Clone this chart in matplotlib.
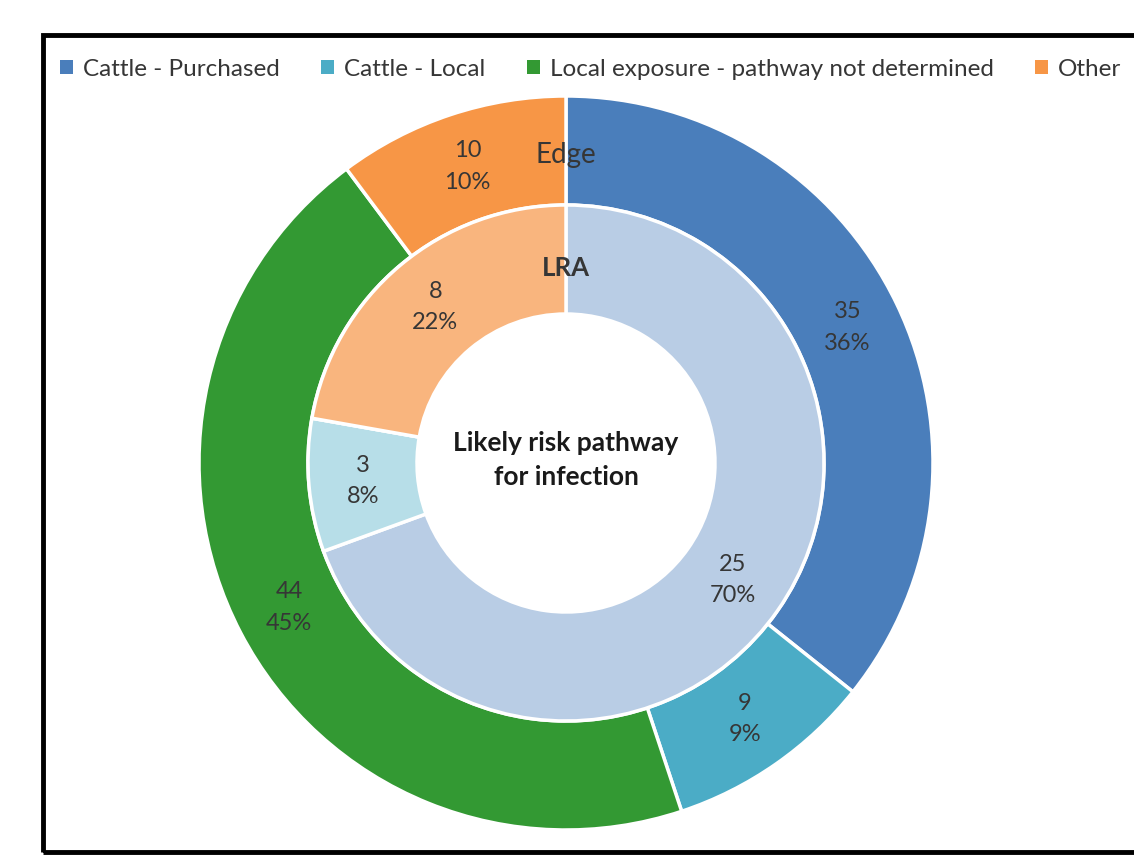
import matplotlib
matplotlib.use('Agg')
import matplotlib.pyplot as plt
from matplotlib.patches import Patch, Rectangle
import numpy as np

plt.rcParams['font.family'] = ['Lato', 'DejaVu Sans']

# data
categories = ['Cattle - Purchased', 'Cattle - Local',
              'Local exposure - pathway not determined', 'Other']
edge_counts = [35, 9, 44, 10]
edge_pct = [36, 9, 45, 10]
lra_counts = [25, 3, 0, 8]
lra_pct = [70, 8, 0, 22]

outer_colors = ['#4a7ebb', '#4bacc6', '#339933', '#f79646']
inner_colors = ['#b9cde5', '#b7dee8', '#a9d18e', '#f9b57e']
label_color = '#363636'

W, H = 1134, 855
fig = plt.figure(figsize=(W / 100, H / 100), dpi=100)

# pie centre and outer radius in pixels
cx, cy, R = 566, 463, 367
half = 380
ax = fig.add_axes([(cx - half) / W, (H - cy - half) / H, 2 * half / W, 2 * half / H])

ring = 109 / R
outer, _ = ax.pie(edge_counts, radius=1, colors=outer_colors, startangle=90,
                  counterclock=False,
                  wedgeprops=dict(width=ring, edgecolor='white', linewidth=2.5))
inner, _ = ax.pie(lra_counts, radius=1 - ring, colors=inner_colors, startangle=90,
                  counterclock=False,
                  wedgeprops=dict(width=ring, edgecolor='white', linewidth=2.5))

# pie() sets its own limits, so override afterwards
ax.set_xlim(-half / R, half / R)
ax.set_ylim(-half / R, half / R)
ax.set_aspect('equal')
ax.axis('off')


def put_labels(wedges, counts, pcts):
    for w, n, p in zip(wedges, counts, pcts):
        if n == 0:
            continue
        ang = np.deg2rad((w.theta1 + w.theta2) / 2)
        r = w.r - w.width / 2
        ax.text(r * np.cos(ang), r * np.sin(ang), f'{n}\n{p}%', ha='center', va='center',
                fontsize=17, color=label_color, linespacing=1.6)

put_labels(outer, edge_counts, edge_pct)
put_labels(inner, lra_counts, lra_pct)

ax.text(0, (cy - 155) / R, 'Edge', ha='center', va='center', fontsize=20, color=label_color)
ax.text(0, (cy - 268) / R, 'LRA', ha='center', va='center', fontsize=18.5,
        color=label_color, fontweight='bold')
ax.text(0, 0.008, 'Likely risk pathway\nfor infection', ha='center', va='center',
        fontsize=19, fontweight='bold', color='#1a1a1a', linespacing=1.5)

handles = [Patch(facecolor=c, edgecolor='none') for c in outer_colors]
fig.legend(handles, categories, loc='center left', bbox_to_anchor=(38 / W, 1 - 69 / H),
           ncol=4, frameon=False, fontsize=17.5, handlelength=0.55, handleheight=0.55,
           handletextpad=0.4, columnspacing=1.7, labelcolor=label_color)

# border frame (right side runs off the image)
fig.add_artist(Rectangle((43 / W, 3 / H), 1.2, (H - 3 - 35) / H, transform=fig.transFigure,
                         fill=False, edgecolor='black', linewidth=3.5, clip_on=False))

fig.savefig('out.png', dpi=100)
